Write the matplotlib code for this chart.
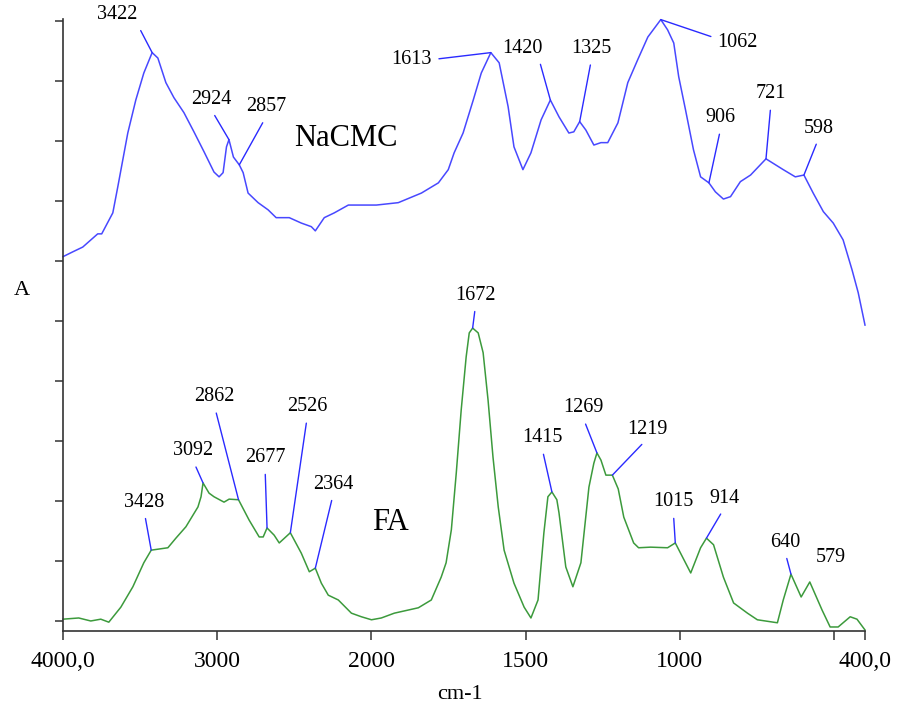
import numpy as np
import matplotlib
matplotlib.use('Agg')
import matplotlib.pyplot as plt

plt.rcParams['font.family'] = 'Liberation Serif'

# NaCMC spectrum (wavenumber cm-1, absorbance a.u.)
nacmc_wn = [4000, 3937, 3872, 3775, 3749, 3677, 3645, 3580, 3528, 3476, 3422, 3385,
            3333, 3281, 3216, 3151, 3086, 3021, 2988, 2962, 2940, 2924, 2895, 2857,
            2832, 2800, 2735, 2670, 2618, 2533, 2455, 2390, 2364, 2306, 2241, 2150,
            1984, 1913, 1838, 1783, 1751, 1732, 1703, 1670, 1644, 1613, 1586, 1557,
            1538, 1509, 1483, 1450, 1420, 1392, 1360, 1344, 1325, 1305, 1279, 1256,
            1234, 1201, 1169, 1137, 1104, 1062, 1040, 1020, 1004, 982, 956, 933, 906,
            885, 859, 836, 804, 771, 721, 665, 626, 598, 568, 535, 503,
            471, 442, 422, 400]
nacmc_abs = [6.07, 6.15, 6.23, 6.45, 6.45, 6.80, 7.23, 8.13, 8.68, 9.13, 9.47, 9.38,
             8.97, 8.72, 8.47, 8.15, 7.82, 7.48, 7.40, 7.47, 7.90, 8.02, 7.73, 7.60,
             7.47, 7.13, 6.97, 6.85, 6.72, 6.72, 6.63, 6.57, 6.50, 6.72, 6.80, 6.93,
             6.93, 6.97, 7.13, 7.30, 7.52, 7.80, 8.13, 8.68, 9.13, 9.47, 9.30, 8.57,
             7.90, 7.52, 7.80, 8.35, 8.68, 8.40, 8.13, 8.15, 8.32, 8.18, 7.93, 7.97,
             7.97, 8.30, 8.97, 9.35, 9.73, 10.02, 9.85, 9.63, 9.07, 8.52, 7.85, 7.40, 7.30,
             7.15, 7.03, 7.07, 7.32, 7.43, 7.70, 7.52, 7.40, 7.43, 7.13, 6.82, 6.63,
             6.35, 5.85, 5.47, 4.93]

# FA spectrum
fa_wn = [4000, 3898, 3820, 3755, 3703, 3625, 3547, 3476, 3428, 3320, 3268, 3203,
         3125, 3105, 3092, 3053, 3021, 2956, 2923, 2862, 2793, 2728, 2702, 2677,
         2631, 2598, 2526, 2455, 2403, 2364, 2325, 2280, 2215, 2130, 2065, 2000,
         1968, 1926, 1848, 1806, 1774, 1758, 1741, 1725, 1709, 1693, 1683, 1672,
         1654, 1638, 1622, 1606, 1589, 1570, 1538, 1505, 1483, 1460, 1441, 1428,
         1415, 1399, 1392, 1370, 1347, 1321, 1295, 1279, 1269, 1256, 1240, 1219,
         1200, 1182, 1150, 1134, 1095, 1040, 1015, 965, 933, 914, 891, 859, 826,
         781, 749, 684, 665, 640, 607, 579, 539, 513, 487, 448, 426, 400]
fa_abs = [0.03, 0.05, 0.00, 0.03, -0.02, 0.23, 0.57, 0.97, 1.18, 1.22, 1.38, 1.57,
          1.90, 2.07, 2.30, 2.13, 2.07, 1.98, 2.03, 2.02, 1.68, 1.40, 1.40, 1.55,
          1.43, 1.30, 1.47, 1.13, 0.82, 0.88, 0.63, 0.43, 0.35, 0.13, 0.07, 0.02,
          0.05, 0.13, 0.22, 0.35, 0.73, 0.97, 1.52, 2.47, 3.52, 4.40, 4.80, 4.88,
          4.80, 4.47, 3.68, 2.73, 1.90, 1.18, 0.63, 0.23, 0.05, 0.35, 1.47, 2.07,
          2.15, 2.02, 1.80, 0.90, 0.57, 0.97, 2.23, 2.63, 2.80, 2.68, 2.43, 2.43,
          2.20, 1.73, 1.30, 1.22, 1.23, 1.22, 1.30, 0.80, 1.22, 1.38, 1.27, 0.73, 0.30,
          0.13, 0.02, -0.03, 0.35, 0.78, 0.40, 0.65, 0.18, -0.10, -0.10, 0.07, 0.03, -0.15]

# peak labels: (label, offset of text from peak in pixels, where the leader leaves the text)
nacmc_peaks = [(3422, (-35, 38), (1, 0)), (2924, (-18, 40), (0.5, 0)), (2857, (27, 58), (0.5, 0)),
               (1613, (-79, -7), (1, 0.5)), (1420, (-28, 52), (0.9, 0)), (1325, (12, 73), (0.5, 0)),
               (1062, (77, -23), (0, 0.7)), (906, (12, 65), (0.5, 0)), (721, (5, 65), (0.5, 0)),
               (598, (15, 47), (0.5, 0))]
fa_peaks = [(3428, (-7, 48), (0.5, 0)), (3092, (-10, 32), (0.5, 0)), (2862, (-24, 103), (0.5, 0)),
            (2677, (-2, 70), (0.5, 0)), (2526, (17, 126), (0.5, 0)), (2364, (18, 84), (0.5, 0)),
            (1672, (3, 33), (0.5, 0)), (1415, (-10, 54), (0.5, 0)), (1269, (-14, 45), (0.5, 0)),
            (1219, (35, 46), (0.5, 0)), (1015, (-2, 41), (0.5, 0)), (914, (18, 40), (0.5, 0)),
            (640, (-6, 32), (0.5, 0)), (579, (21, 24), None)]

x_ticks = [4000, 3000, 2000, 1500, 1000, 500, 400]
x_ticklabels = ['4000,0', '3000', '2000', '1500', '1000', '', '400,0']

blue = '#4848ff'
green = '#3c9a3c'
leader = '#2a2aff'


# FTIR style axis: half scale above 2000 cm-1
def fwd(w):
    w = np.asarray(w, dtype=float)
    return np.where(w > 2000, 2000 + (w - 2000) / 2.0, w)


def inv(c):
    c = np.asarray(c, dtype=float)
    return np.where(c > 2000, 2000 + 2.0 * (c - 2000), c)


fig = plt.figure(figsize=(9, 7.1), dpi=100)
ax = fig.add_axes([63 / 900, 79 / 710, 802 / 900, 612 / 710])
ax.set_xscale('function', functions=(fwd, inv))

ax.plot(nacmc_wn, nacmc_abs, color=blue, lw=1.1, clip_on=False)
ax.plot(fa_wn, fa_abs, color=green, lw=1.1, clip_on=False)


def label_peaks(wn, ab, peaks):
    wn_r = np.array(wn[::-1], dtype=float)
    ab_r = np.array(ab[::-1], dtype=float)
    for w, off, rel in peaks:
        a = float(np.interp(w, wn_r, ab_r))
        props = None
        if rel is not None:
            props = dict(arrowstyle='-', color=leader, lw=1.0, relpos=rel,
                         shrinkA=3, shrinkB=0)
        ax.annotate(str(w), xy=(w, a), xytext=off, textcoords='offset pixels',
                    ha='center', va='center', fontsize=14.5, arrowprops=props)


label_peaks(nacmc_wn, nacmc_abs, nacmc_peaks)
label_peaks(fa_wn, fa_abs, fa_peaks)

ax.text((346 - 63) / 802, (631 - 138) / 612, 'NaCMC', transform=ax.transAxes,
        ha='center', va='center', fontsize=22)
ax.text((390 - 63) / 802, (631 - 523) / 612, 'FA', transform=ax.transAxes,
        ha='center', va='center', fontsize=22)

ax.set_xlim(4000, 400)
ax.set_ylim(-0.167, 10.03)
ax.set_xticks(x_ticks)
ax.set_xticklabels(x_ticklabels)
ax.set_yticks(np.arange(0, 11))
ax.set_yticklabels([])
ax.tick_params(axis='x', direction='out', length=6.5, width=1.1, pad=8,
               labelsize=17, color='#333333')
ax.tick_params(axis='y', direction='out', length=6, width=1.1, color='#333333')

ax.set_xlabel('cm-1', fontsize=16)
ax.xaxis.set_label_coords(0.495, -0.088)
ax.set_ylabel('A', fontsize=16, rotation=0, ha='center', va='center')
ax.yaxis.set_label_coords(-0.051, 0.556)

ax.spines['right'].set_visible(False)
ax.spines['top'].set_visible(False)
for s in ['left', 'bottom']:
    ax.spines[s].set_color('#333333')
    ax.spines[s].set_linewidth(1.2)

plt.savefig('out.png', dpi=100)
